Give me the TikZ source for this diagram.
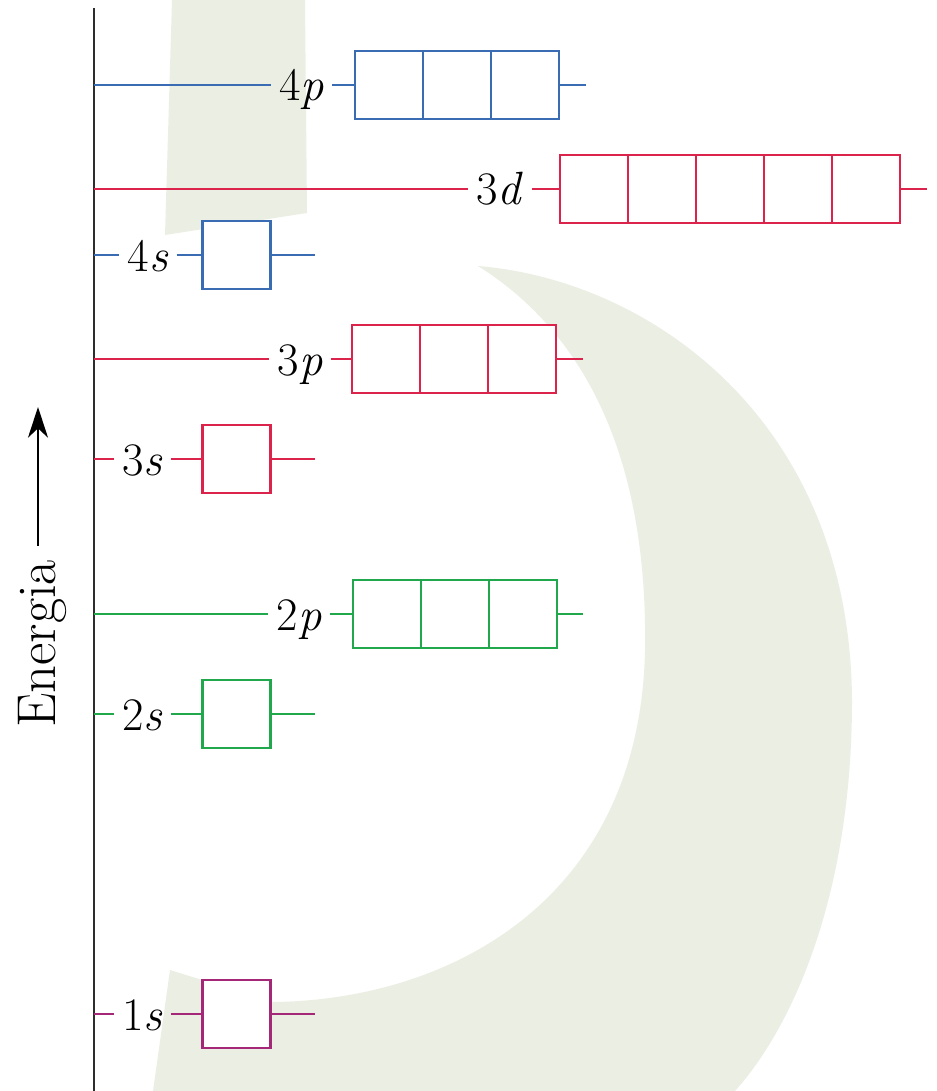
\documentclass[tikz,border=0pt]{standalone}
\usetikzlibrary{arrows.meta}
\definecolor{orbblue}{RGB}{58,108,180}
\definecolor{orbred}{RGB}{220,35,75}
\definecolor{orbgreen}{RGB}{34,168,76}
\definecolor{orbpurple}{RGB}{165,40,120}
\definecolor{wmgreen}{RGB}{235,238,227}
\definecolor{axisgray}{RGB}{45,45,45}
\begin{document}
\begin{tikzpicture}[x=0.75pt,y=-0.75pt,
  lvl/.style={line width=1.7pt},
  cell/.style={draw, fill=white, line width=1.9pt, minimum width=51pt, minimum height=51pt, inner sep=0pt, outer sep=0pt},
  lab/.style={inner ysep=0pt, inner xsep=6pt, font=\fontsize{35}{40}\selectfont, anchor=base, text=black},
  wm/.style={fill=wmgreen, draw=none},
  axisline/.style={draw=axisgray, line width=2.2pt},
  energyarrow/.style={draw=black, line width=1.5pt, -{Stealth[length=23pt,width=15pt,inset=7pt]}}]
\useasboundingbox (0,0) rectangle (936,1091);

% watermark background
\fill[wm] (172,0) -- (305,0) -- (307,213) -- (165,235) -- cycle;
\fill[wm] (478,266) .. controls (650,280) and (850,420) .. (852,700)
  .. controls (852,900) and (790,1030) .. (735,1091) -- (153,1091) -- (170,970) -- (273,1002)
  .. controls (450,1000) and (640,900) .. (645,650)
  .. controls (648,450) and (580,330) .. (478,266) -- cycle;

% axis
\coordinate (axtop) at (94,8);
\coordinate (axbot) at (94,1091);
\draw[axisline] (axtop) -- (axbot);

% Energia label and arrow
\node[rotate=90, anchor=base west, inner xsep=10.5pt, inner ysep=0pt,
      font=\fontsize{41}{48}\selectfont] (en) at (55,742) {Energia};
\coordinate (etip) at (38,407);
\draw[energyarrow] (en.east -| etip) -- (etip);

% ---------- 4p ----------
\coordinate (a4p) at (94,85);
\coordinate (e4p) at (586,85);
\node[lab] (l4p) at (301.5,101) {4\textit{p}};
\foreach \i/\x in {1/389,2/457,3/525} \node[cell, draw=orbblue] (c4p\i) at (\x,85) {};
\draw[lvl, orbblue] (a4p) -- (a4p -| l4p.west);
\draw[lvl, orbblue] (l4p.east |- a4p) -- (c4p1.west);
\draw[lvl, orbblue] (c4p3.east) -- (e4p);

% ---------- 3d ----------
\coordinate (a3d) at (94,189);
\coordinate (e3d) at (927,189);
\node[lab] (l3d) at (500,205) {3\textit{d}};
\foreach \i/\x in {1/594,2/662,3/730,4/798,5/866} \node[cell, draw=orbred] (c3d\i) at (\x,189) {};
\draw[lvl, orbred] (a3d) -- (a3d -| l3d.west);
\draw[lvl, orbred] (l3d.east |- a3d) -- (c3d1.west);
\draw[lvl, orbred] (c3d5.east) -- (e3d);

% ---------- 4s ----------
\coordinate (a4s) at (94,255);
\coordinate (e4s) at (315,255);
\node[lab] (l4s) at (148,271) {4\textit{s}};
\node[cell, draw=orbblue] (c4s) at (236.5,255) {};
\draw[lvl, orbblue] (a4s) -- (a4s -| l4s.west);
\draw[lvl, orbblue] (l4s.east |- a4s) -- (c4s.west);
\draw[lvl, orbblue] (c4s.east) -- (e4s);

% ---------- 3p ----------
\coordinate (a3p) at (94,359);
\coordinate (e3p) at (583,359);
\node[lab] (l3p) at (300,375) {3\textit{p}};
\foreach \i/\x in {1/386,2/454,3/522} \node[cell, draw=orbred] (c3p\i) at (\x,359) {};
\draw[lvl, orbred] (a3p) -- (a3p -| l3p.west);
\draw[lvl, orbred] (l3p.east |- a3p) -- (c3p1.west);
\draw[lvl, orbred] (c3p3.east) -- (e3p);

% ---------- 3s ----------
\coordinate (a3s) at (94,459);
\coordinate (e3s) at (315,459);
\node[lab] (l3s) at (142.5,475) {3\textit{s}};
\node[cell, draw=orbred] (c3s) at (236.5,459) {};
\draw[lvl, orbred] (a3s) -- (a3s -| l3s.west);
\draw[lvl, orbred] (l3s.east |- a3s) -- (c3s.west);
\draw[lvl, orbred] (c3s.east) -- (e3s);

% ---------- 2p ----------
\coordinate (a2p) at (94,614);
\coordinate (e2p) at (583,614);
\node[lab] (l2p) at (299,630) {2\textit{p}};
\foreach \i/\x in {1/387,2/455,3/523} \node[cell, draw=orbgreen] (c2p\i) at (\x,614) {};
\draw[lvl, orbgreen] (a2p) -- (a2p -| l2p.west);
\draw[lvl, orbgreen] (l2p.east |- a2p) -- (c2p1.west);
\draw[lvl, orbgreen] (c2p3.east) -- (e2p);

% ---------- 2s ----------
\coordinate (a2s) at (94,714);
\coordinate (e2s) at (315,714);
\node[lab] (l2s) at (142.5,730) {2\textit{s}};
\node[cell, draw=orbgreen] (c2s) at (236.5,714) {};
\draw[lvl, orbgreen] (a2s) -- (a2s -| l2s.west);
\draw[lvl, orbgreen] (l2s.east |- a2s) -- (c2s.west);
\draw[lvl, orbgreen] (c2s.east) -- (e2s);

% ---------- 1s ----------
\coordinate (a1s) at (94,1014);
\coordinate (e1s) at (315,1014);
\node[lab] (l1s) at (142.5,1030) {1\textit{s}};
\node[cell, draw=orbpurple] (c1s) at (236.5,1014) {};
\draw[lvl, orbpurple] (a1s) -- (a1s -| l1s.west);
\draw[lvl, orbpurple] (l1s.east |- a1s) -- (c1s.west);
\draw[lvl, orbpurple] (c1s.east) -- (e1s);

\end{tikzpicture}
\end{document}
